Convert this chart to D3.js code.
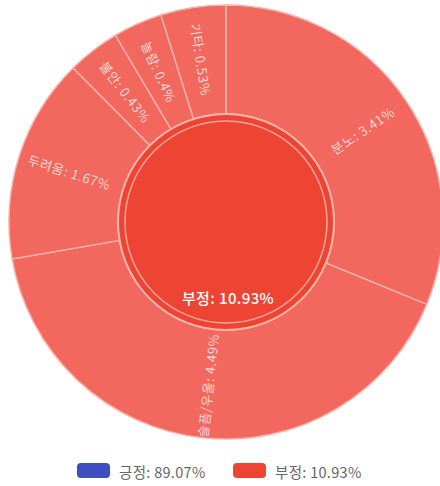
<!DOCTYPE html>
<html>
<head>
<meta charset="utf-8">
<script src="https://cdn.jsdelivr.net/npm/d3@7"></script>
<style>
  html, body { margin: 0; padding: 0; background: #fff; }
  svg { display: block; font-family: "Noto Sans CJK KR", "Noto Sans", sans-serif; }
</style>
</head>
<body>
<svg id="chart" width="440" height="486"></svg>
<script>
// sentiment totals (legend)
const sentiments = ["긍정", "부정"];
const sentimentShares = [89.07, 10.93];
const sentimentColors = ["#3d4fc0", "#ee4434"];

// breakdown of 부정, clockwise from 12 o'clock
const negLabels = ["분노", "슬픔/우울", "두려움", "불안", "놀람", "기타"];
const negShares = [3.41, 4.49, 1.67, 0.43, 0.4, 0.53];

const cx = 226, cy = 222;
const innerR = 108, outerR = 217;

const svg = d3.select("#chart");
const g = svg.append("g").attr("transform", `translate(${cx},${cy})`);

const pie = d3.pie().sort(null).value(d => d.value);
const slices = pie(negLabels.map((name, i) => ({ name, value: negShares[i] })));

const arc = d3.arc().innerRadius(innerR).outerRadius(outerR);

g.selectAll("path.seg")
  .data(slices)
  .join("path")
  .attr("class", "seg")
  .attr("d", arc)
  .attr("fill", "#f2675e")
  .attr("stroke", "#f8b0a6")
  .attr("stroke-width", 1.5);

// center disc = 부정 node
g.append("circle")
  .attr("r", innerR)
  .attr("fill", sentimentColors[1])
  .attr("stroke", "#f9b7ac")
  .attr("stroke-width", 2);
g.append("circle")
  .attr("r", innerR - 7)
  .attr("fill", "none")
  .attr("stroke", "#f7a797")
  .attr("stroke-width", 1.5);

// radial labels in the outer ring
const labelR = (innerR + outerR) / 2 + 2;
g.selectAll("text.seg-label")
  .data(slices)
  .join("text")
  .attr("class", "seg-label")
  .attr("transform", d => {
    const a = (d.startAngle + d.endAngle) / 2;
    const x = labelR * Math.sin(a);
    const y = -labelR * Math.cos(a);
    let deg = a * 180 / Math.PI - 90;
    if (a > Math.PI) deg += 180;
    return `translate(${x},${y}) rotate(${deg})`;
  })
  .attr("text-anchor", "middle")
  .attr("dominant-baseline", "central")
  .attr("font-size", 13)
  .attr("letter-spacing", 0.6)
  .attr("fill", "#fcd9d2")
  .text(d => `${d.data.name}: ${d.data.value}%`);

g.append("text")
  .attr("x", 2)
  .attr("y", 75)
  .attr("text-anchor", "middle")
  .attr("dominant-baseline", "central")
  .attr("font-size", 15)
  .attr("font-weight", 500)
  .attr("letter-spacing", 0.4)
  .attr("fill", "#fff")
  .text(`${sentiments[1]}: ${sentimentShares[1]}%`);

// legend
const legendX = [77, 233];
const legend = svg.selectAll("g.legend")
  .data(sentiments)
  .join("g")
  .attr("class", "legend")
  .attr("transform", (d, i) => `translate(${legendX[i]},463)`);

legend.append("rect")
  .attr("width", 33)
  .attr("height", 15)
  .attr("rx", 4)
  .attr("fill", (d, i) => sentimentColors[i]);

legend.append("text")
  .attr("x", 42)
  .attr("y", 8)
  .attr("dominant-baseline", "central")
  .attr("font-size", 14.5)
  .attr("letter-spacing", 0.3)
  .attr("fill", "#666")
  .text((d, i) => `${d}: ${sentimentShares[i]}%`);
</script>
</body>
</html>
